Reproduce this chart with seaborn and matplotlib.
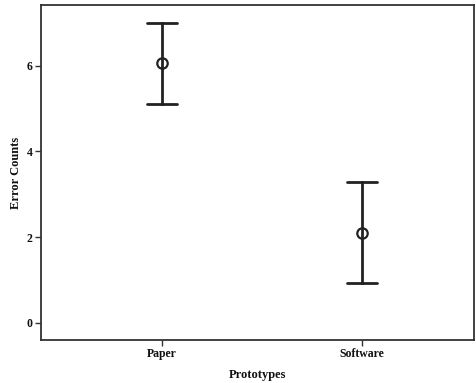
import matplotlib
matplotlib.use("Agg")
import matplotlib.pyplot as plt
import seaborn as sns
import pandas as pd

# Per-prototype summary: lower bound, mean, upper bound of error counts
prototypes = ["Paper", "Software"]
lower = [5.12, 0.92]
means = [6.07, 2.10]
upper = [7.0, 3.28]

rows = []
for p, lo, m, hi in zip(prototypes, lower, means, upper):
    for v in (lo, m, hi):
        rows.append({"Prototypes": p, "Error Counts": v})
df = pd.DataFrame(rows)

sns.set_theme(style="white")
plt.rcParams["font.family"] = ["Liberation Serif", "DejaVu Serif"]

fig = plt.figure(figsize=(4.76, 3.83), dpi=100)
ax = fig.add_axes([0.0861, 0.1123, 0.9099, 0.8747])

ink = "#222222"
sns.pointplot(
    data=df, x="Prototypes", y="Error Counts", order=prototypes,
    estimator="median", errorbar=lambda v: (v.min(), v.max()),
    capsize=0.15, linestyles="none", color=ink, markers="o",
    markersize=7.5, markerfacecolor="white", markeredgecolor=ink,
    markeredgewidth=1.6, err_kws={"linewidth": 2.0, "color": ink},
    ax=ax,
)

ax.set_xlim(-0.605, 1.56)
ax.set_ylim(-0.4, 7.42)
ax.set_yticks([0, 2, 4, 6])
ax.set_yticklabels(["0", "2", "4", "6"])

for s in ax.spines.values():
    s.set_color("#333333")
    s.set_linewidth(1.3)

ax.tick_params(axis="both", which="major", direction="out", length=4,
               width=1, color="#333333", labelsize=8.5, pad=2,
               left=True, bottom=True)
for lbl in ax.get_xticklabels() + ax.get_yticklabels():
    lbl.set_fontweight("bold")
    lbl.set_color("#111111")

ax.set_xlabel("Prototypes", fontsize=9, fontweight="bold", color="#111111", labelpad=6)
ax.set_ylabel("Error Counts", fontsize=9, fontweight="bold", color="#111111", labelpad=3)

fig.savefig("out.png", dpi=100, facecolor="white")
